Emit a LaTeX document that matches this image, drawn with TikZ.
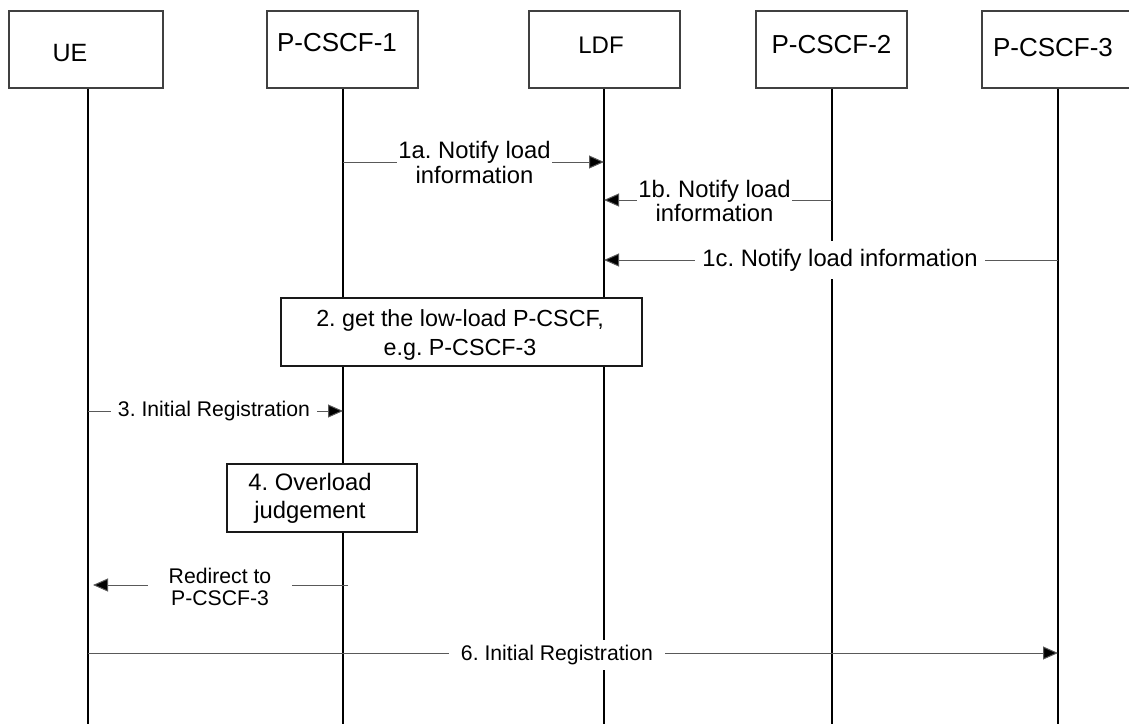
\documentclass[tikz,border=0pt]{standalone}
\usepackage{fontspec}
\setmainfont{Liberation Sans}
\usetikzlibrary{arrows.meta}
\frenchspacing
\begin{document}
\begin{tikzpicture}[x=1pt,y=-1pt,
  entity/.style={draw=black!75, line width=1.1pt, fill=white,
    minimum width=151pt, minimum height=77pt, inner sep=0pt},
  elabel/.style={inner sep=0pt, font=\fontsize{26}{30}\selectfont},
  lifeline/.style={line width=1.4pt, black},
  msg/.style={draw=black!65, line width=1pt,
    -{Triangle[length=15pt,width=13pt,fill=black]}},
  mlabel/.style={fill=white, inner ysep=2pt, inner xsep=1pt, align=center},
  big/.style={font=\fontsize{23.8}{25}\selectfont},
  small/.style={font=\fontsize{21.2}{22}\selectfont},
  procbox/.style={draw=black!90, line width=1.1pt, fill=white, inner sep=0pt},
]
\useasboundingbox (0,0) rectangle (1129,724);

% bottom ends of the lifelines
\coordinate (ueB)  at (88,724);
\coordinate (p1B)  at (343,724);
\coordinate (ldfB) at (604,724);
\coordinate (p2B)  at (832,724);
\coordinate (p3B)  at (1058,724);

% entity boxes
\node[entity, minimum width=154pt] (ue)  at (86,49.5)    {};
\node[entity] (p1)  at (342.5,49.5)  {};
\node[entity] (ldf) at (604.5,49.5)  {};
\node[entity] (p2)  at (831.5,49.5)  {};
\node[entity] (p3)  at (1057.5,49.5) {};

\node[elabel, font=\fontsize{25}{30}\selectfont] (ueT) at (70,53) {UE};
\node[elabel] (p1T)  at (337,43)    {P-CSCF-1};
\node[elabel, font=\fontsize{24}{30}\selectfont] (ldfT) at (601,45) {LDF};
\node[elabel] (p2T)  at (831.5,45)  {P-CSCF-2};
\node[elabel] (p3T)  at (1053,48)   {P-CSCF-3};

% lifelines
\draw[lifeline] (ue.south -| ueB)  -- (ueB);
\draw[lifeline] (p1.south -| p1B)  -- (p1B);
\draw[lifeline] (ldf.south -| ldfB) -- (ldfB);
\draw[lifeline] (p2.south -| p2B)  -- (p2B);
\draw[lifeline] (p3.south -| p3B)  -- (p3B);

% local procedures
\node[procbox, minimum width=361pt, minimum height=68pt] (s2) at (461.5,332) {};
\node[align=center, inner sep=0pt, font=\fontsize{23.3}{29}\selectfont] (s2T) at (460,335)
  {2. get the low-load P-CSCF,\\e.g. P-CSCF-3};
\node[procbox, minimum width=190pt, minimum height=68pt] (s4) at (322,498) {};
\node[align=center, inner sep=0pt, font=\fontsize{23.8}{28}\selectfont] (s4T) at (310,498)
  {4. Overload\\judgement};

% messages
\draw[msg] (p1B |- 0,162) -- (ldfB |- 0,162);
\node[mlabel, big] (m1a) at (474.5,162.5) {1a. Notify load\\information};

\draw[msg] (p2B |- 0,200) -- (ldfB |- 0,200);
\node[mlabel, font=\fontsize{23.8}{24}\selectfont] (m1b) at (714.5,201) {1b. Notify load\\information};

\draw[msg] (p3B |- 0,260) -- (ldfB |- 0,260);
\node[mlabel, big, inner xsep=7pt, inner ysep=8pt] (m1c) at (840,260) {1c. Notify load information};

\draw[msg] (ueB |- 0,411) -- (p1B |- 0,411);
\node[mlabel, small, inner xsep=7pt] (m3) at (214,411) {3. Initial Registration};

\draw[msg, shorten <=-5pt, shorten >=5pt] (p1B |- 0,585) -- (ueB |- 0,585);
\node[mlabel, small, inner xsep=21pt] (m5) at (220,587) {Redirect to\\P-CSCF-3};

\draw[msg] (ueB |- 0,653) -- (p3B |- 0,653);
\node[mlabel, small, inner xsep=12pt, inner ysep=5pt] (m6) at (557,655) {6. Initial Registration};
\end{tikzpicture}
\end{document}
